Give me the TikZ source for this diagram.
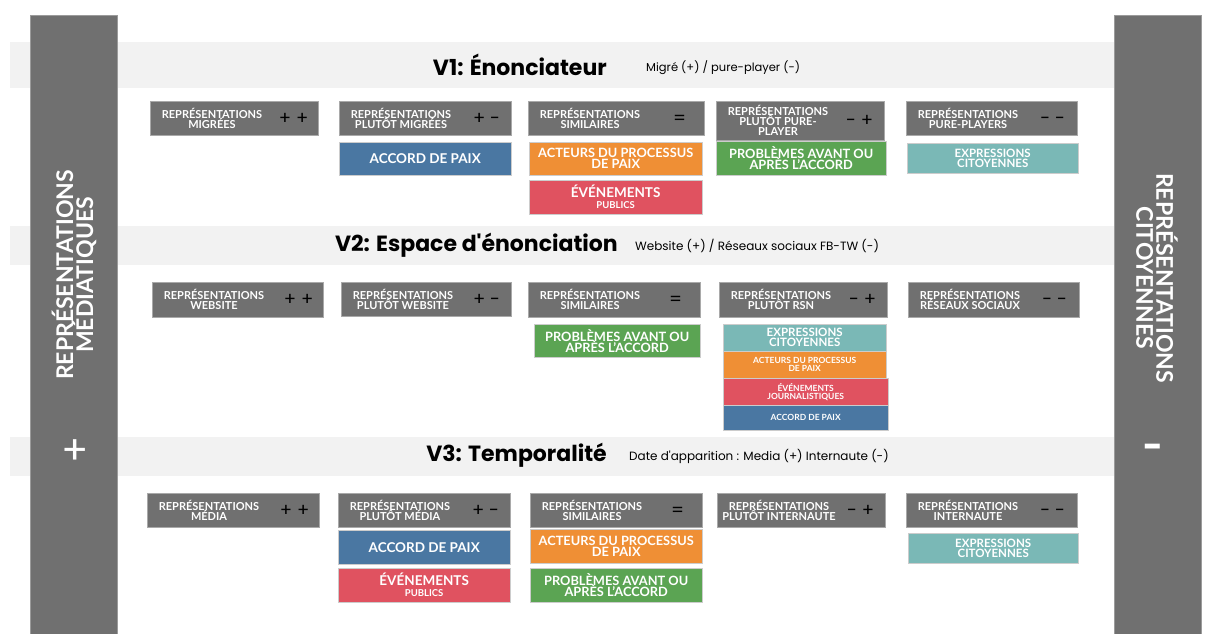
\documentclass[tikz,border=0pt]{standalone}
\usepackage{fontspec}
\setmainfont{Lato}
\newfontfamily\pop{Poppins}
\definecolor{bargray}{HTML}{707070}
\definecolor{bandgray}{HTML}{F2F2F2}
\definecolor{cblue}{HTML}{4A77A2}
\definecolor{corange}{HTML}{EF8F35}
\definecolor{cred}{HTML}{E05260}
\definecolor{cgreen}{HTML}{5BA453}
\definecolor{cteal}{HTML}{7AB8B6}
\newcommand\tightlines{\lineskiplimit=-100pt\lineskip=0pt}
\tikzset{
  band/.style={fill=bandgray},
  sidebar/.style={fill=bargray, draw=bargray!70!white, line width=0.6pt, anchor=north west, inner sep=0pt},
  hbox/.style={fill=bargray, draw=bargray!60!white, line width=0.6pt, inner sep=0pt},
  htext/.style={text=white, font=\bfseries\fontsize{11}{10}\selectfont\tightlines, align=center, inner sep=0pt},
  hsign/.style={text=black, font=\pop\fontsize{18}{18}\selectfont, inner sep=0pt, anchor=base},
  cbox/.style={draw=white!80!black, line width=0.4pt, inner sep=0pt},
  ctext/.style={text=white, align=center, inner sep=0pt},
  vtitle/.style={font=\pop\bfseries\fontsize{22}{22}\selectfont, inner sep=0pt, anchor=east},
  vsub/.style={font=\pop\fontsize{12}{12}\selectfont, inner sep=0pt, anchor=west},
  sidetext/.style={text=white, font=\bfseries\fontsize{23}{20}\selectfont\tightlines, align=center, inner sep=0pt},
  fbig/.style={font=\bfseries\fontsize{13.5}{11}\selectfont\tightlines},
  fmid/.style={font=\bfseries\fontsize{12.8}{11}\selectfont\tightlines},
  fteal/.style={font=\bfseries\fontsize{11.5}{10}\selectfont\tightlines},
  fsml/.style={font=\bfseries\fontsize{8.5}{8}\selectfont\tightlines},
}
\newcommand\mkhead[7]{%
  \node[hbox, minimum width={(#4-#2)*1pt}, minimum height={(#5-#3)*1pt}, anchor=north west] (#1) at (#2,#3) {};
  \node[htext] (#1-t) at ([xshift=62pt]#1.west) {#6};
  \node[hsign] (#1-s) at ([xshift=-25pt,yshift=-6pt]#1.east) {#7};
}
\newcommand\mkbox[8]{%
  \node[cbox, fill=#6, minimum width={(#4-#2)*1pt}, minimum height={(#5-#3)*1pt}, anchor=north west] (#1) at (#2,#3) {};
  \node[ctext, #7] (#1-t) at (#1.center) {#8};
}
\begin{document}
\begin{tikzpicture}[x=1pt,y=-1pt]
\useasboundingbox (0,0) rectangle (1206,633);
% bands
\fill[band] (10,42) rectangle (1114,88);
\fill[band] (10,226) rectangle (1114,265);
\fill[band] (10,437) rectangle (1114,476);
% side bars
\node[sidebar, minimum width=87pt, minimum height=620pt] (lbar) at (30,15) {};
\node[sidebar, minimum width=87pt, minimum height=620pt] (rbar) at (1114,15) {};
\node[sidetext, rotate=90] (ltext) at (74,275) {REPRÉSENTATIONS\\MÉDIATIQUES};
\node[sidetext, rotate=-90] (rtext) at (1157,278) {REPRÉSENTATIONS\\CITOYENNES};
\node[text=white, font=\pop\fontsize{40}{40}\selectfont, inner sep=0pt] (lplus) at (75,452) {+};
\node[text=white, font=\pop\bfseries\fontsize{34}{34}\selectfont, inner sep=0pt] (rminus) at (1153,451) {-};
% titles
\node[vtitle] (t1) at (607,65) {V1: Énonciateur};
\node[vsub, font=\pop\fontsize{11.5}{12}\selectfont] (s1) at (646,68) {Migré (+) / pure-player (-)};
\node[vtitle] (t2) at (618,245) {V2: Espace d'énonciation};
\node[vsub] (s2) at (635,246) {Website (+) / Réseaux sociaux FB-TW (-)};
\node[vtitle] (t3) at (607,455) {V3: Temporalité};
\node[vsub] (s3) at (629,456) {Date d'apparition : Media (+) Internaute (-)};
% Row 1
\mkhead{a1}{150}{101}{318}{135}{REPRÉSENTATIONS\\MIGRÉES}{+ +}
\mkhead{a2}{339}{101}{511}{135}{REPRÉSENTATIONS\\PLUTÔT MIGRÉES}{+ -}
\mkhead{a3}{528}{101}{704}{135}{REPRÉSENTATIONS\\SIMILAIRES}{=}
\mkhead{a4}{716}{101}{884}{140}{REPRÉSENTATIONS\\PLUTÔT PURE-\\PLAYER}{- +}
\mkhead{a5}{906}{101}{1077}{135}{REPRÉSENTATIONS\\PURE-PLAYERS}{- -}
\mkbox{a2b}{339}{142}{511}{175}{cblue}{fbig}{ACCORD DE PAIX}
\mkbox{a3o}{529}{142}{702}{175}{corange}{fmid}{ACTEURS DU PROCESSUS\\DE PAIX}
\mkbox{a3r}{529}{180}{702}{214}{cred}{fbig}{ÉVÉNEMENTS\\\fontsize{9.5}{9}\selectfont PUBLICS}
\mkbox{a4g}{716}{141}{886}{175}{cgreen}{fmid}{PROBLÈMES AVANT OU\\APRÈS L'ACCORD}
\mkbox{a5t}{907}{143}{1078}{173}{cteal}{fteal}{EXPRESSIONS\\CITOYENNES}
% Row 2
\mkhead{b1}{152}{282}{323}{317}{REPRÉSENTATIONS\\WEBSITE}{+ +}
\mkhead{b2}{341}{282}{511}{316}{REPRÉSENTATIONS\\PLUTÔT WEBSITE}{+ -}
\mkhead{b3}{528}{282}{700}{317}{REPRÉSENTATIONS\\SIMILAIRES}{=}
\mkhead{b4}{719}{282}{887}{317}{REPRÉSENTATIONS\\PLUTÔT RSN}{- +}
\mkhead{b5}{908}{282}{1079}{317}{REPRÉSENTATIONS\\RÉSEAUX SOCIAUX}{- -}
\mkbox{b3g}{534}{324}{700}{357}{cgreen}{fmid}{PROBLÈMES AVANT OU\\APRÈS L'ACCORD}
\mkbox{b4t}{723}{324}{886}{351}{cteal}{fteal}{EXPRESSIONS\\CITOYENNES}
\mkbox{b4o}{723}{351}{886}{378}{corange}{fsml}{ACTEURS DU PROCESSUS\\DE PAIX}
\mkbox{b4r}{723}{378}{888}{405}{cred}{fsml}{ÉVÉNEMENTS\\JOURNALISTIQUES}
\mkbox{b4b}{723}{405}{888}{430}{cblue}{fsml}{ACCORD DE PAIX}
% Row 3
\mkhead{c1}{147}{493}{319}{527}{REPRÉSENTATIONS\\MÉDIA}{+ +}
\mkhead{c2}{338}{493}{510}{527}{REPRÉSENTATIONS\\PLUTÔT MÉDIA}{+ -}
\mkhead{c3}{530}{493}{702}{527}{REPRÉSENTATIONS\\SIMILAIRES}{=}
\mkhead{c4}{717}{493}{885}{527}{REPRÉSENTATIONS\\PLUTÔT INTERNAUTE}{- +}
\mkhead{c5}{906}{493}{1077}{527}{REPRÉSENTATIONS\\INTERNAUTE}{- -}
\mkbox{c2b}{338}{530}{510}{564}{cblue}{fbig}{ACCORD DE PAIX}
\mkbox{c2r}{338}{568}{510}{602}{cred}{fbig}{ÉVÉNEMENTS\\\fontsize{9.5}{9}\selectfont PUBLICS}
\mkbox{c3o}{530}{529}{702}{563}{corange}{fmid}{ACTEURS DU PROCESSUS\\DE PAIX}
\mkbox{c3g}{530}{568}{702}{602}{cgreen}{fmid}{PROBLÈMES AVANT OU\\APRÈS L'ACCORD}
\mkbox{c5t}{908}{533}{1078}{563}{cteal}{fteal}{EXPRESSIONS\\CITOYENNES}
\end{tikzpicture}
\end{document}
